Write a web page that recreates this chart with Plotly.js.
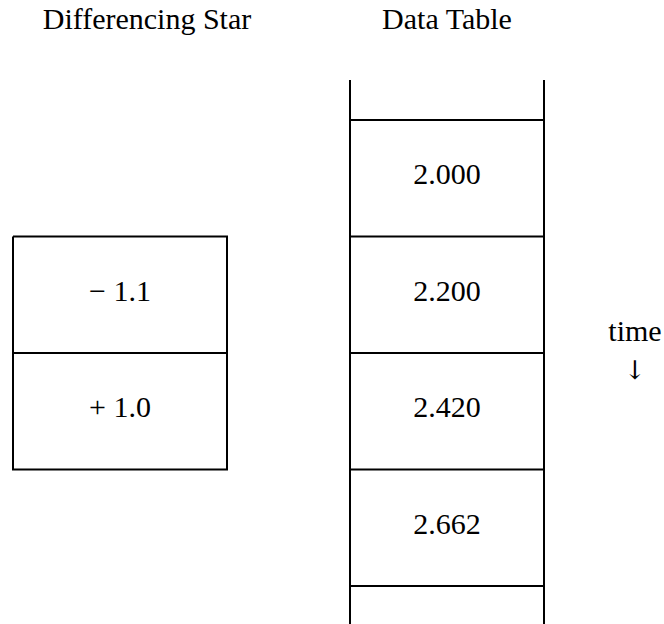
<!DOCTYPE html>
<html>
<head>
<meta charset="utf-8">
<script src="https://cdn.plot.ly/plotly-3.0.1.min.js"></script>
<style>html,body{margin:0;padding:0;background:#fff;}#chart{width:664px;height:624px;}</style>
</head>
<body>
<div id="chart"></div>
<script>
// ---- data ----
const starTitle = "Differencing Star";
const tableTitle = "Data Table";
const starLabels = ["\u2212 1.1", "+ 1.0"];
const tableValues = ["2.000", "2.200", "2.420", "2.662"];
const timeLabel = "time";
const arrowLabel = "\u2193";

// ---- layout geometry (pixel units) ----
const W = 664, H = 624;
const rowH = 116.5;
const tableTop = 120;
const tableX0 = 350, tableX1 = 544;
const starX0 = 13, starX1 = 227;
const starFirstRow = 1; // star aligned with table rows 1..2
const lineStyle = {color: "#000", width: 2};
const fontFam = "Liberation Serif";
const fs = 30;
const textLift = 1.5;

const traces = [];
function seg(xs, ys) {
  traces.push({type: "scatter", mode: "lines", x: xs, y: ys, line: lineStyle,
               hoverinfo: "skip", showlegend: false});
}

// table: verticals and horizontal rules
const nRules = tableValues.length + 1;
seg([tableX0, tableX0], [80, H]);
seg([tableX1, tableX1], [80, H]);
for (let i = 0; i < nRules; i++) {
  const y = tableTop + i * rowH;
  seg([tableX0, tableX1], [y, y]);
}
// table values
traces.push({type: "scatter", mode: "text",
  x: tableValues.map(() => (tableX0 + tableX1) / 2),
  y: tableValues.map((v, i) => tableTop + (i + 0.5) * rowH - textLift),
  text: tableValues, textposition: "middle center",
  textfont: {family: fontFam, size: fs, color: "#000"},
  hoverinfo: "skip", showlegend: false});

// star box
const sTop = tableTop + starFirstRow * rowH;
const sBot = sTop + starLabels.length * rowH;
seg([starX0, starX1, starX1, starX0, starX0], [sTop, sTop, sBot, sBot, sTop]);
for (let i = 1; i < starLabels.length; i++) {
  const y = sTop + i * rowH;
  seg([starX0, starX1], [y, y]);
}
traces.push({type: "scatter", mode: "text",
  x: starLabels.map(() => (starX0 + starX1) / 2),
  y: starLabels.map((v, i) => sTop + (i + 0.5) * rowH - textLift),
  text: starLabels, textposition: "middle center",
  textfont: {family: fontFam, size: fs, color: "#000"},
  hoverinfo: "skip", showlegend: false});

// titles and time label
traces.push({type: "scatter", mode: "text",
  x: [147, (tableX0 + tableX1) / 2, 635],
  y: [21, 21, 333],
  text: [starTitle, tableTitle, timeLabel],
  textposition: "middle center",
  textfont: {family: fontFam, size: fs, color: "#000"},
  hoverinfo: "skip", showlegend: false});
traces.push({type: "scatter", mode: "text",
  x: [635], y: [372], text: [arrowLabel],
  textposition: "middle center",
  textfont: {family: "DejaVu Serif", size: 26, color: "#000"},
  hoverinfo: "skip", showlegend: false});

const layout = {
  width: W, height: H,
  margin: {l: 0, r: 0, t: 0, b: 0},
  paper_bgcolor: "#fff", plot_bgcolor: "#fff",
  xaxis: {range: [0, W], visible: false, fixedrange: true},
  yaxis: {range: [H, 0], visible: false, fixedrange: true},
  showlegend: false
};
Plotly.newPlot("chart", traces, layout, {displayModeBar: false, staticPlot: true});
</script>
</body>
</html>
